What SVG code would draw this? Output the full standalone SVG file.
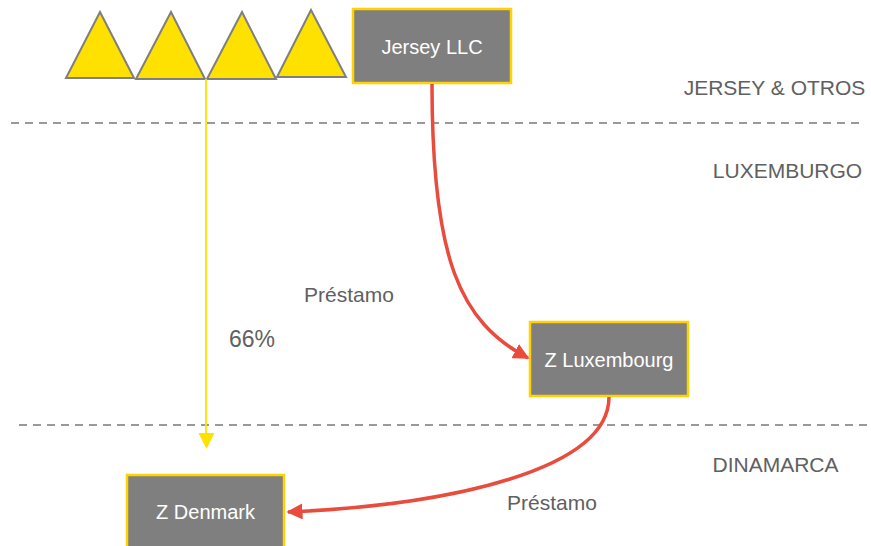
<svg xmlns="http://www.w3.org/2000/svg" width="871" height="546" viewBox="0 0 871 546">
<style>
.box{fill:#7f7f7f;stroke:#ffd200;stroke-width:2.5}
.tri{fill:#ffe100;stroke:#7f7f7f;stroke-width:2;stroke-linejoin:miter}
.bt{font-family:"Liberation Sans",Arial,sans-serif;font-size:20px;fill:#ffffff;text-anchor:middle}
.lbl{font-family:"Liberation Sans",Arial,sans-serif;font-size:21px;fill:#606060}
.dash{stroke:#999999;stroke-width:2;stroke-dasharray:8 6;fill:none}
.red{stroke:#e94b3c;stroke-width:3.5;fill:none;marker-end:url(#ar)}
</style>
<defs>
<marker id="ar" viewBox="0 0 10 10" refX="9" refY="5" markerWidth="4.6" markerHeight="4.6" orient="auto" markerUnits="strokeWidth">
<path d="M0,0 L10,5 L0,10 z" fill="#e94b3c"/>
</marker>
</defs>
<g id="regions">
<line class="dash" x1="11" y1="123" x2="860" y2="123"/>
<line class="dash" x1="19" y1="425" x2="868" y2="425"/>
<text class="lbl" x="774.5" y="95" text-anchor="middle">JERSEY &amp; OTROS</text>
<text class="lbl" x="787.5" y="178" text-anchor="middle">LUXEMBURGO</text>
<text class="lbl" x="775.5" y="472" text-anchor="middle">DINAMARCA</text>
</g>
<g id="shareholders">
<polygon class="tri" points="66,78 100,12 134,78"/>
<polygon class="tri" points="136,79 171,12 205,79"/>
<polygon class="tri" points="207,79 242,12 276,79"/>
<polygon class="tri" points="277,77 311,10 346,77"/>
</g>
<g id="jersey-llc">
<rect class="box" x="353" y="9" width="158" height="74"/>
<text class="bt" x="432" y="54">Jersey LLC</text>
</g>
<g id="z-luxembourg">
<rect class="box" x="530" y="322" width="158" height="74"/>
<text class="bt" x="609" y="367">Z Luxembourg</text>
</g>
<g id="z-denmark">
<rect class="box" x="127" y="475" width="157" height="80"/>
<text class="bt" x="205.5" y="519">Z Denmark</text>
</g>
<g id="connectors">
<line x1="206" y1="79" x2="206" y2="434" stroke="#ffe100" stroke-width="1.8"/>
<polygon points="198.5,433 214.5,433 206.5,449" fill="#ffe100"/>
<path class="red" d="M432,84 C432,260 460,322 528,358"/>
<path class="red" d="M609,397 C609,470 450,505 288,512"/>
<text class="lbl" x="349" y="302" text-anchor="middle">Préstamo</text>
<text class="lbl" x="229" y="347" style="font-size:23px">66%</text>
<text class="lbl" x="552" y="510" text-anchor="middle">Préstamo</text>
</g>
</svg>
